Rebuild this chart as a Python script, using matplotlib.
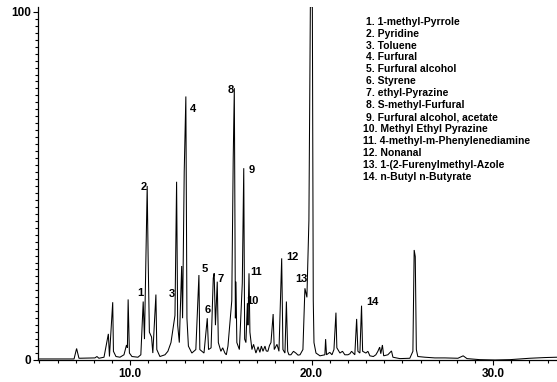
"""Total ion chromatogram with numbered peak assignments."""
import numpy as np
import matplotlib
matplotlib.use("Agg")
import matplotlib.pyplot as plt
from matplotlib.ticker import MultipleLocator, FixedLocator

plt.rcParams["font.family"] = ["Liberation Sans", "DejaVu Sans"]

# ---------------------------------------------------------------------------
# Trace: retention time (min) vs relative abundance (%)
# ---------------------------------------------------------------------------
RT = [4.94, 6.14, 6.91, 7.05, 7.18, 8.06, 8.17, 8.28, 8.56, 8.80,
      8.86, 9.04, 9.08, 9.22, 9.44, 9.66, 9.80, 9.85, 9.89, 9.96,
      10.10, 10.43, 10.59, 10.72, 10.79, 10.94, 10.99, 11.06, 11.18, 11.25,
      11.42, 11.47, 11.64, 11.92, 12.08, 12.25, 12.47, 12.56, 12.62, 12.71,
      12.84, 12.89, 12.98, 13.07, 13.13, 13.21, 13.40, 13.62, 13.79, 13.84,
      14.07, 14.25, 14.32, 14.46, 14.58, 14.63, 14.70, 14.80, 14.86, 15.00,
      15.10, 15.22, 15.30, 15.39, 15.60, 15.68, 15.74, 15.80, 15.83, 15.88,
      16.02, 16.18, 16.26, 16.31, 16.38, 16.46, 16.49, 16.55, 16.60, 16.71,
      16.80, 16.93, 17.05, 17.15, 17.23, 17.32, 17.43, 17.50, 17.59, 17.68,
      17.76, 17.88, 17.94, 18.09, 18.20, 18.35, 18.42, 18.53, 18.61, 18.68,
      18.75, 18.86, 19.00, 19.13, 19.25, 19.36, 19.52, 19.63, 19.74, 19.85,
      19.93, 20.04, 20.09, 20.13, 20.24, 20.46, 20.73, 20.77, 20.82, 21.00,
      21.12, 21.23, 21.34, 21.39, 21.56, 21.70, 21.83, 22.00, 22.11, 22.20,
      22.38, 22.48, 22.55, 22.66, 22.75, 22.81, 22.99, 23.10, 23.21, 23.40,
      23.54, 23.65, 23.75, 23.81, 23.90, 23.97, 24.20, 24.40, 24.48, 24.86,
      25.41, 25.58, 25.65, 25.71, 25.77, 25.85, 26.24, 26.79, 27.34, 28.06,
      28.35, 28.56, 29.27, 30.10, 30.92, 32.02, 32.85, 33.52]
ABUND = [0.3, 0.3, 0.3, 3.3, 0.5, 0.6, 1.0, 0.5, 0.8, 7.5,
         1.0, 16.6, 2.5, 1.0, 0.8, 1.5, 4.3, 3.5, 17.4, 2.0,
         1.0, 0.8, 1.5, 16.8, 6.0, 50.0, 30.0, 8.0, 6.6, 2.0,
         18.8, 3.0, 1.0, 1.5, 2.5, 5.0, 12.8, 51.2, 10.0, 5.0,
         27.0, 12.0, 54.1, 75.7, 12.0, 4.0, 2.0, 3.0, 24.4, 3.0,
         2.0, 12.0, 3.0, 3.5, 23.5, 24.9, 10.0, 22.5, 5.0, 2.5,
         3.5, 2.0, 1.5, 4.0, 17.0, 58.0, 78.1, 12.0, 22.5, 5.0,
         3.0, 22.1, 55.1, 6.0, 5.0, 16.3, 10.0, 24.9, 8.0, 3.0,
         4.5, 2.0, 3.8, 2.2, 4.0, 2.5, 4.0, 2.6, 2.5, 4.2,
         5.0, 13.2, 3.0, 4.5, 2.5, 29.2, 3.0, 2.0, 16.8, 2.5,
         1.5, 1.5, 2.5, 2.0, 1.4, 1.5, 3.0, 20.6, 18.0, 40.0,
         101.5, 101.5, 17.2, 5.0, 2.0, 1.2, 1.5, 6.0, 1.5, 2.2,
         1.5, 3.0, 13.6, 3.5, 2.0, 2.5, 1.5, 1.5, 1.8, 2.5,
         1.5, 11.8, 2.5, 2.0, 15.6, 2.5, 2.0, 2.5, 1.2, 1.0,
         1.5, 2.5, 3.7, 1.8, 4.3, 1.2, 1.5, 2.6, 0.8, 0.4,
         0.5, 2.5, 31.6, 29.7, 3.0, 1.0, 0.8, 0.6, 0.6, 0.5,
         1.2, 0.4, 0.1, 0.0, 0.1, 0.5, 0.7, 0.8]

# Peak numbers and where their labels sit (rt, abundance)
PEAK_NUM = ["1", "2", "3", "4", "5", "6", "7", "8", "9", "10", "11", "12", "13", "14"]
LABEL_RT = [10.55, 10.75, 12.30, 13.45, 14.12, 14.26, 15.00, 15.54, 16.67,
            16.76, 16.94, 18.94, 19.44, 23.36]
LABEL_AB = [19.2, 49.6, 19.0, 72.1, 26.0, 14.5, 23.4, 77.6, 54.6,
            17.0, 25.2, 29.7, 23.4, 16.7]

COMPOUNDS = ["1-methyl-Pyrrole", "Pyridine", "Toluene", "Furfural",
             "Furfural alcohol", "Styrene", "ethyl-Pyrazine",
             "S-methyl-Furfural", "Furfural alcohol, acetate",
             "Methyl Ethyl Pyrazine", "4-methyl-m-Phenylenediamine",
             "Nonanal", "1-(2-Furenylmethyl-Azole", "n-Butyl n-Butyrate"]

W, H = 557, 382
fig = plt.figure(figsize=(W / 100, H / 100), dpi=100)
ax = fig.add_axes([38.3 / W, 1 - 360 / H, 1 - 38.3 / W, (360 - 7) / H])

ax.plot(RT, ABUND, color="black", lw=0.75, solid_joinstyle="miter")
ax.set_xlim(4.94, 33.52)
ax.set_ylim(0, 101.4)

for num, x, y in zip(PEAK_NUM, LABEL_RT, LABEL_AB):
    ax.text(x, y, num, fontsize=8, fontweight="bold", ha="center", va="center")

ax.spines[["top", "right"]].set_visible(False)
ax.spines["left"].set_linewidth(0.9)
ax.spines["bottom"].set_linewidth(0.9)

ax.xaxis.set_major_locator(FixedLocator([10, 20, 30]))
ax.xaxis.set_minor_locator(MultipleLocator(1))
ax.set_xticklabels(["10.0", "20.0", "30.0"], fontsize=8.5, fontweight="bold")
ax.yaxis.set_major_locator(FixedLocator([0, 100]))
ax.yaxis.set_minor_locator(MultipleLocator(2))
ax.set_yticklabels(["0", "100"], fontsize=8.5, fontweight="bold")
ax.tick_params(which="both", direction="out", width=0.8, pad=2)
ax.tick_params(which="major", length=3.5)
ax.tick_params(which="minor", length=2.5)

# compound key, top right
for i, name in enumerate(COMPOUNDS):
    x0 = 366 if i < 9 else 363
    y0 = 21.7 + i * 11.92
    fig.text(x0 / W, 1 - y0 / H, f"{i + 1}. {name}", fontsize=7.5,
             fontweight="bold", ha="left", va="center")

fig.savefig("out.png", dpi=100)
